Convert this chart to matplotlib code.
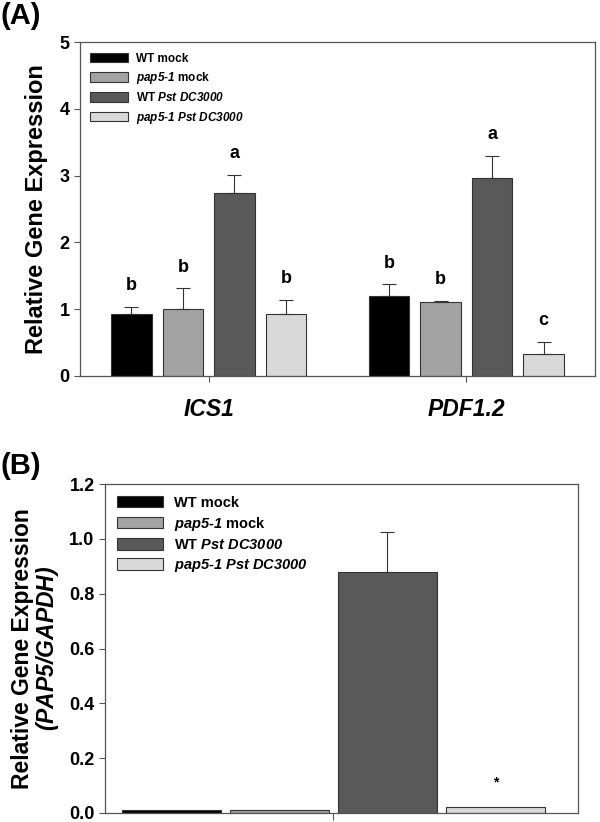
import numpy as np
import matplotlib
matplotlib.use("Agg")
import matplotlib.pyplot as plt

plt.rcParams["font.family"] = ["Liberation Sans", "DejaVu Sans"]
plt.rcParams["font.weight"] = "bold"
# mathtext only used for the italic parts
plt.rcParams["mathtext.fontset"] = "custom"
plt.rcParams["mathtext.rm"] = "Liberation Sans:bold:italic"
plt.rcParams["mathtext.it"] = "Liberation Sans:bold:italic"
plt.rcParams["mathtext.bf"] = "Liberation Sans:bold:italic"

# panel A data
genes = ["ICS1", "PDF1.2"]
groups = ["WT mock", r"$\text{pap5-1}$ mock", r"WT $\text{Pst DC3000}$",
          r"$\text{pap5-1 Pst DC3000}$"]
colors = ["#000000", "#a3a3a3", "#595959", "#d9d9d9"]
vals_a = [[0.93, 1.20], [1.01, 1.11], [2.74, 2.97], [0.93, 0.33]]
errs_a = [[0.10, 0.17], [0.30, 0.01], [0.27, 0.33], [0.21, 0.18]]
letters_a = [["b", "b"], ["b", "b"], ["a", "a"], ["b", "c"]]

# panel B data
vals_b = [0.01, 0.01, 0.88, 0.02]
errs_b = [0.0, 0.0, 0.145, 0.0]
marks_b = ["", "", "", "*"]

fig = plt.figure(figsize=(6, 8.22), dpi=100)
edge = "#333333"
spine_c = "#555555"

# ---------- (A)
ax = fig.add_axes([0.133, 0.5426, 0.859, 0.4063])
x = np.arange(len(genes))
pitch = 0.2
for i in range(4):
    pos = x + (i - 1.5) * pitch
    ax.bar(pos, vals_a[i], width=0.158, color=colors[i], edgecolor=edge,
           linewidth=0.8, label=groups[i], zorder=2)
    ax.errorbar(pos, vals_a[i], yerr=[np.zeros(2), errs_a[i]], fmt="none",
                ecolor="#333333", elinewidth=0.8, capsize=5, capthick=0.8, zorder=3)
    for j in range(2):
        ax.text(pos[j], vals_a[i][j] + errs_a[i][j] + 0.32, letters_a[i][j],
                ha="center", va="center", fontsize=13, fontweight="bold")
ax.set_xlim(-0.5, 1.5)
ax.set_ylim(0, 5)
ax.set_yticks(range(6))
ax.set_xticks(x)
ax.set_xticklabels(genes, fontsize=16.5, fontstyle="italic", fontweight="bold")
ax.tick_params(axis="x", length=4, width=0.8, color=spine_c, pad=12)
ax.tick_params(axis="y", length=4, width=0.8, color=spine_c, labelsize=13)
for s in ax.spines.values():
    s.set_color(spine_c)
    s.set_linewidth(0.9)
ax.set_ylabel("Relative Gene Expression", fontsize=17, fontweight="bold", labelpad=8)
ax.legend(loc="upper left", fontsize=8.5, frameon=False, handlelength=3.2,
          handleheight=0.9, labelspacing=0.45, borderaxespad=0.5, handletextpad=0.7)
fig.text(0.0, 0.998, "(A)", fontsize=21, fontweight="bold", va="top")

# ---------- (B)
ax2 = fig.add_axes([0.175, 0.011, 0.788, 0.4])
pitch_b = 0.2
for i in range(4):
    pos = (i - 1.5) * pitch_b
    ax2.bar(pos, vals_b[i], width=0.183, color=colors[i], edgecolor=edge,
            linewidth=0.8, label=groups[i], zorder=2)
    if errs_b[i] > 0:
        ax2.errorbar(pos, vals_b[i], yerr=[[0], [errs_b[i]]], fmt="none",
                     ecolor="#333333", elinewidth=0.8, capsize=5, capthick=0.8, zorder=3)
    if marks_b[i]:
        ax2.text(pos, 0.11, marks_b[i], ha="center", va="center", fontsize=10)
ax2.set_xlim(-0.423, 0.453)
ax2.set_ylim(0, 1.2)
ax2.set_yticks(np.arange(0, 1.21, 0.2))
ax2.set_yticklabels(["%.1f" % v for v in np.arange(0, 1.21, 0.2)])
ax2.set_xticks([0])
ax2.set_xticklabels([""])
ax2.tick_params(axis="x", length=5, width=0.8, color=spine_c)
ax2.tick_params(axis="y", length=4, width=0.8, color=spine_c, labelsize=13)
for s in ax2.spines.values():
    s.set_color(spine_c)
    s.set_linewidth(0.9)
ax2.set_ylabel("Relative Gene Expression\n" + r"$\text{(PAP5/GAPDH)}$",
               fontsize=16.5, fontweight="bold", labelpad=6, linespacing=1.0)
ax2.legend(loc="upper left", fontsize=10.5, frameon=False, handlelength=3.2,
           handleheight=0.8, labelspacing=0.35, borderaxespad=0.4, handletextpad=0.7)
fig.text(0.0, 0.450, "(B)", fontsize=21, fontweight="bold", va="top")

plt.savefig("out.png", dpi=100)
